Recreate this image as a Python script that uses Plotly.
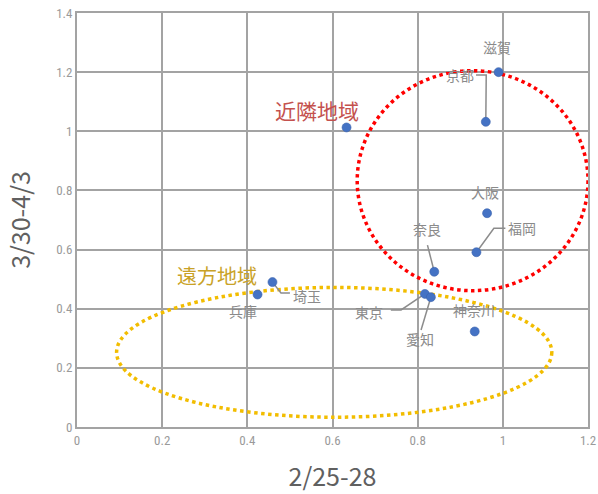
import plotly.graph_objects as go

# Prefecture ratios: period 2/25-28 (x) vs 3/30-4/3 (y)
prefectures = ["滋賀", "京都", "大阪", "福岡", "奈良", "東京", "愛知", "神奈川", "埼玉", "兵庫", ""]
ratio_feb = [0.99, 0.96, 0.963, 0.938, 0.839, 0.817, 0.831, 0.934, 0.459, 0.424, 0.633]
ratio_apr = [1.20, 1.032, 0.723, 0.591, 0.525, 0.450, 0.439, 0.323, 0.490, 0.448, 1.013]

x_ticks = [0, 0.2, 0.4, 0.6, 0.8, 1, 1.2]
y_ticks = [0, 0.2, 0.4, 0.6, 0.8, 1, 1.2, 1.4]

# label placement (data coordinates) and leader line waypoints
label_pos = {
    "滋賀": (0.986, 1.285), "京都": (0.900, 1.190), "大阪": (0.958, 0.796),
    "福岡": (1.044, 0.672), "奈良": (0.823, 0.668), "東京": (0.685, 0.389),
    "愛知": (0.806, 0.296), "神奈川": (0.933, 0.395), "埼玉": (0.540, 0.444),
    "兵庫": (0.390, 0.393),
}
leaders = {
    "京都": [(0.937, 1.19), (0.961, 1.19)],
    "福岡": [(1.006, 0.672), (0.979, 0.672)],
    "奈良": [(0.823, 0.615)],
    "東京": [(0.737, 0.396), (0.761, 0.396)],
    "愛知": [(0.808, 0.328)],
    "埼玉": [(0.500, 0.453), (0.479, 0.453)],
}

GRID = "#a3a3a3"
LABEL = "#8a8a8a"
FONT = "Noto Sans CJK JP"

fig = go.Figure()

# leader lines from labels to their points
for name, pts in leaders.items():
    i = prefectures.index(name)
    xs = [p[0] for p in pts] + [ratio_feb[i]]
    ys = [p[1] for p in pts] + [ratio_apr[i]]
    fig.add_trace(go.Scatter(x=xs, y=ys, mode="lines",
                             line=dict(color="#8c8c8c", width=1.5),
                             hoverinfo="skip", showlegend=False))

fig.add_trace(go.Scatter(
    x=ratio_feb, y=ratio_apr, mode="markers",
    marker=dict(size=9, color="#4472C4", line=dict(width=0.6, color="#3a63ad")),
    text=prefectures, showlegend=False,
))

for name, (lx, ly) in label_pos.items():
    fig.add_annotation(x=lx, y=ly, text=name, showarrow=False,
                       font=dict(family=FONT, size=14, color=LABEL))

fig.add_annotation(x=0.563, y=1.072, text="近隣地域", showarrow=False,
                   font=dict(family=FONT, size=21, color="#c4514e"))
fig.add_annotation(x=0.328, y=0.514, text="遠方地域", showarrow=False,
                   font=dict(family=FONT, size=20, color="#c9a227"))

# group outlines
fig.add_shape(type="circle", xref="x", yref="y", x0=0.658, x1=1.2, y0=0.461, y1=1.205,
              line=dict(color="#ff0000", width=3.5, dash="dot"), layer="between")
fig.add_shape(type="circle", xref="x", yref="y", x0=0.093, x1=1.115, y0=0.033, y1=0.472,
              line=dict(color="#f2bd00", width=3.5, dash="dot"), layer="between")

axis_common = dict(
    showgrid=True, gridcolor=GRID, gridwidth=2,
    showline=True, linecolor=GRID, linewidth=2, mirror=True,
    zeroline=False, ticks="", automargin=False,
    tickfont=dict(family="Roboto Condensed, Liberation Sans Narrow, " + FONT, size=13, color="#9a9a9a"),
)

fig.update_xaxes(range=[0, 1.2], tickvals=x_ticks, ticktext=[str(v) for v in x_ticks],
                 title=dict(text="2/25-28", font=dict(family=FONT, size=25, color="#606060"), standoff=22),
                 **axis_common)
fig.update_yaxes(range=[0, 1.4], tickvals=y_ticks, ticktext=[str(v) for v in y_ticks],
                 title=dict(text="3/30-4/3", font=dict(family=FONT, size=25, color="#606060"), standoff=18),
                 **axis_common)

fig.update_layout(
    width=598, height=494,
    margin=dict(l=77, r=10, t=13, b=67),
    paper_bgcolor="white", plot_bgcolor="white",
    font=dict(family=FONT),
)

fig.write_html("out.html")
